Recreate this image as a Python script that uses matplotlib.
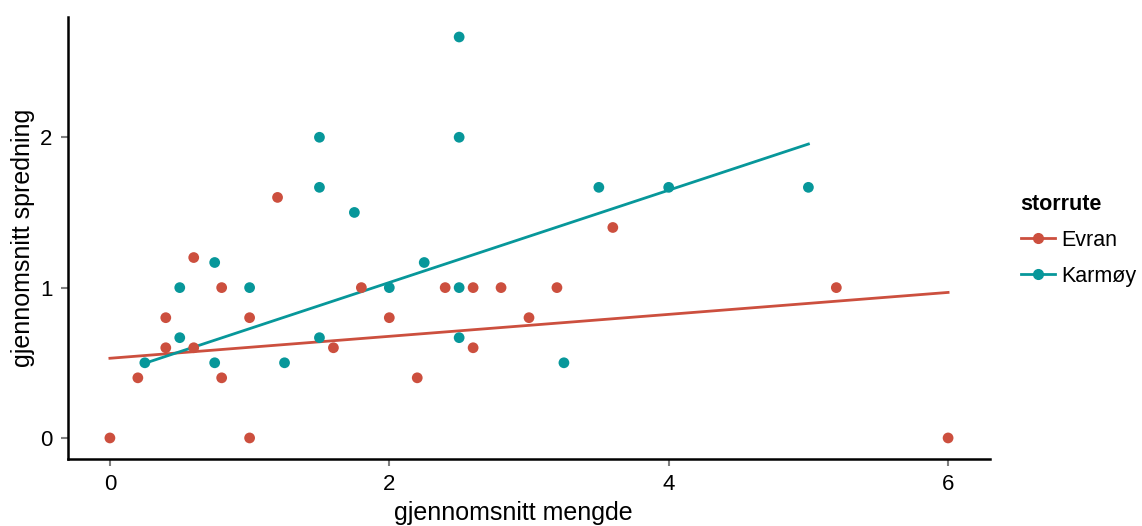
import matplotlib.pyplot as plt
import numpy as np
from matplotlib.lines import Line2D

plt.rcParams['font.family'] = ['Liberation Sans', 'DejaVu Sans']

groups = ["Evran", "Karmøy"]
colors = ["#cc4f3e", "#07979a"]

evran_x = [0, 0.2, 0.4, 0.4, 0.6, 0.6, 0.8, 0.8, 1.0, 1.0, 1.2, 1.6, 1.8, 2.0,
           2.2, 2.4, 2.6, 2.6, 2.8, 3.0, 3.2, 3.6, 5.2, 6.0]
evran_y = [0, 0.4, 0.6, 0.8, 1.2, 0.6, 1.0, 0.4, 0.8, 0, 1.6, 0.6, 1.0, 0.8,
           0.4, 1.0, 1.0, 0.6, 1.0, 0.8, 1.0, 1.4, 1.0, 0]

karmoy_x = [0.25, 0.5, 0.5, 0.75, 0.75, 1.0, 1.25, 1.5, 1.5, 1.5, 1.75, 2.0,
            2.25, 2.5, 2.5, 2.5, 2.5, 3.25, 3.5, 4.0, 5.0]
karmoy_y = [0.5, 1.0, 0.667, 1.167, 0.5, 1.0, 0.5, 2.0, 1.667, 0.667, 1.5, 1.0,
            1.167, 2.667, 2.0, 1.0, 0.667, 0.5, 1.667, 1.667, 1.667]

# regression lines (some overlapping points are hidden)
fit_intercept = [0.53, 0.42]
fit_slope = [0.073, 0.307]

data = [(evran_x, evran_y), (karmoy_x, karmoy_y)]

fig = plt.figure(figsize=(11.42, 5.26), dpi=100)
ax = fig.add_axes([68 / 1142, (526 - 459) / 526, (990 - 68) / 1142, (459 - 17) / 526])

for (xs, ys), col, b, k in zip(data, colors, fit_intercept, fit_slope):
    xs = np.array(xs)
    ys = np.array(ys)
    ax.scatter(xs, ys, s=60, color=col, edgecolors='none', zorder=3)
    xl = np.array([xs.min(), xs.max()])
    ax.plot(xl, k * xl + b, color=col, lw=2, zorder=2)

ax.set_xlim(-0.3, 6.3)
ax.set_ylim(-0.14, 2.8)
ax.set_xticks([0, 2, 4, 6])
ax.set_yticks([0, 1, 2])
for s in ["top", "right"]:
    ax.spines[s].set_visible(False)
for s in ["left", "bottom"]:
    ax.spines[s].set_linewidth(1.8)
ax.tick_params(axis='both', colors='#7f7f7f', length=5, width=1.5,
               labelcolor='black', labelsize=16)
ax.tick_params(axis='x', pad=6)
ax.tick_params(axis='y', pad=6)
ax.set_xlabel("gjennomsnitt mengde", fontsize=18)
ax.set_ylabel("gjennomsnitt spredning", fontsize=18)
ax.xaxis.set_label_coords((513 - 68) / 922, -0.095)
ax.yaxis.set_label_coords(-0.036, 0.5)

handles = [Line2D([0], [0], color=c, lw=2, marker='o', markersize=7) for c in colors]
leg = fig.legend(handles, groups, title="storrute", loc='upper left',
                 bbox_to_anchor=(1012 / 1142, 1 - 185 / 526), frameon=False,
                 fontsize=15.5, handlelength=1.6, handletextpad=0.3,
                 labelspacing=0.7, borderaxespad=0)
leg.get_title().set_fontweight('bold')
leg.get_title().set_fontsize(15.5)
leg._legend_box.align = "left"

fig.savefig("out.png", dpi=100)
